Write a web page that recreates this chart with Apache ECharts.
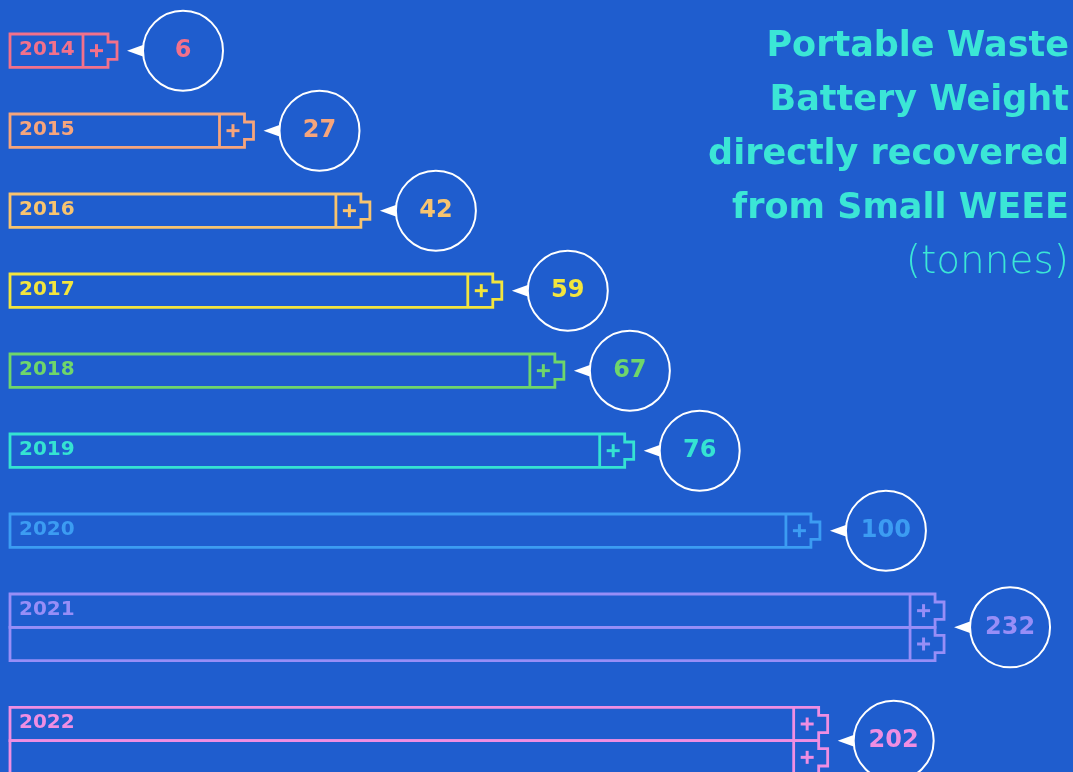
<!DOCTYPE html>
<html>
<head>
<meta charset="utf-8">
<script src="https://cdn.jsdelivr.net/npm/echarts@6/dist/echarts.min.js"></script>
<style>
html,body{margin:0;padding:0;background:#1f5dce;}
#chart{width:1073px;height:772px;}
</style>
</head>
<body>
<div id="chart"></div>
<script>
// ---- data ----
const years = ['2014','2015','2016','2017','2018','2019','2020','2021','2022'];
const tonnes = [6, 27, 42, 59, 67, 76, 100, 232, 202];
const batteryUnits = [1, 1, 1, 1, 1, 1, 1, 2, 2];

// ---- styles ----
const palette = ['#f2718b','#f6a57c','#f8c46f','#f2e53e','#6fd66b','#35e3d2','#3c9cf2','#978ef7','#ef8ee2'];
const BG = '#1f5dce';
const TITLE_COLOR = '#3be6d6';
const GAP = 1.4;          // gap between rows, in battery-cell units
const MIN_BODY = 73;      // minimum body length in px (like barMinHeight)
const CAP_W = 25, NUB_W = 9, NUB_INSET = 8;
const FONT = '"DejaVu Sans", sans-serif';

// row start positions computed from the number of battery units per year
const rowStart = [];
let acc = 0;
for (let i = 0; i < years.length; i++) { rowStart.push(acc); acc += batteryUnits[i] + GAP; }

const seriesData = years.map((y, i) => [tonnes[i], rowStart[i], batteryUnits[i], i]);

function renderItem(params, api) {
  const v = api.value(0), ys = api.value(1), n = api.value(2), idx = api.value(3);
  const color = palette[idx];
  const per = v / n;
  const p0 = api.coord([0, ys]);
  const x0 = p0[0], top0 = p0[1];
  const cellH = api.size([0, 1])[1];
  const bodyW = Math.max(api.size([per, 0])[0], MIN_BODY);
  const xb = x0 + bodyW, xc = xb + CAP_W, xn = xc + NUB_W;
  const children = [];
  const lw = 2.8;
  for (let k = 0; k < n; k++) {
    const t = top0 + k * cellH, b = t + cellH;
    children.push({
      type: 'polygon',
      shape: { points: [[x0, t], [xc, t], [xc, t + NUB_INSET], [xn, t + NUB_INSET], [xn, b - NUB_INSET], [xc, b - NUB_INSET], [xc, b], [x0, b]] },
      style: { fill: null, stroke: color, lineWidth: lw, lineJoin: 'miter' }
    });
    children.push({ type: 'line', shape: { x1: xb, y1: t, x2: xb, y2: b }, style: { stroke: color, lineWidth: lw } });
    const pcx = xb + CAP_W / 2 + 1, pcy = t + cellH / 2, ps = 6.5;
    children.push({ type: 'line', shape: { x1: pcx - ps, y1: pcy, x2: pcx + ps, y2: pcy }, style: { stroke: color, lineWidth: 3 } });
    children.push({ type: 'line', shape: { x1: pcx, y1: pcy - ps, x2: pcx, y2: pcy + ps }, style: { stroke: color, lineWidth: 3 } });
  }
  // year label in first cell
  children.push({
    type: 'text',
    style: { text: years[idx], x: x0 + 9, y: top0 + cellH / 2 - 1, fill: color, font: 'bold 20px ' + FONT, textAlign: 'left', textVerticalAlign: 'middle' }
  });
  // bubble
  const cy = top0 + n * cellH / 2;
  const R = 40;
  const cx = xn + 26 + R;
  children.push({
    type: 'polygon',
    shape: { points: [[xn + 10, cy], [xn + 28, cy - 6.5], [xn + 28, cy + 6.5]] },
    style: { fill: '#ffffff', stroke: null }
  });
  children.push({ type: 'circle', shape: { cx: cx, cy: cy, r: R }, style: { fill: BG, stroke: '#ffffff', lineWidth: 2 } });
  children.push({
    type: 'text',
    style: { text: String(v), x: cx, y: cy, fill: color, font: 'bold 24px ' + FONT, textAlign: 'center', textVerticalAlign: 'middle' }
  });
  return { type: 'group', children: children };
}

const chart = echarts.init(document.getElementById('chart'), null, { renderer: 'canvas' });
chart.setOption({
  backgroundColor: BG,
  animation: false,
  title: {
    text: '{b|Portable Waste}\n{b|Battery Weight}\n{b|directly recovered}\n{b|from Small WEEE}\n{n|(tonnes)}',
    left: 1064, top: 15, textAlign: 'right',
    textStyle: {
      rich: {
        b: { fontFamily: FONT, fontWeight: 'bold', fontSize: 35, color: TITLE_COLOR, lineHeight: 54, align: 'right' },
        n: { fontFamily: FONT, fontWeight: 200, fontSize: 39, color: TITLE_COLOR, lineHeight: 54, align: 'right' }
      }
    }
  },
  grid: { left: 10, right: 0, top: 34, bottom: 0 },
  xAxis: { type: 'value', min: 0, max: 137, show: false },
  yAxis: { type: 'value', min: 0, max: 22.14, inverse: true, show: false },
  series: [{ type: 'custom', renderItem: renderItem, data: seriesData, clip: false }]
});
</script>
</body>
</html>
